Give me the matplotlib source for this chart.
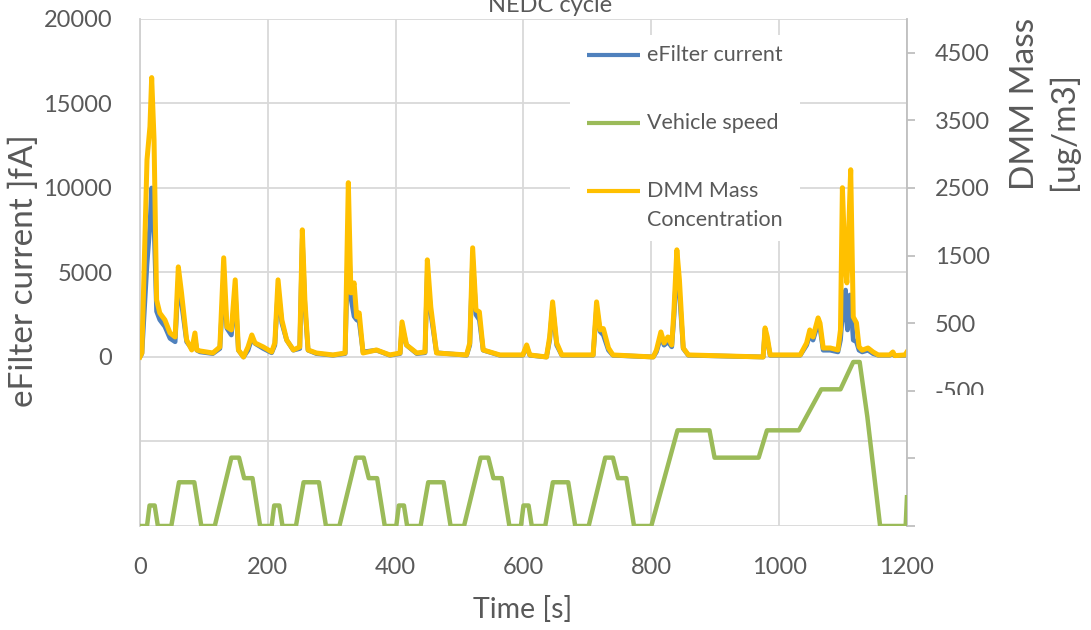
import matplotlib
matplotlib.use("Agg")
import matplotlib.pyplot as plt
from matplotlib.patches import Rectangle

plt.rcParams['font.family'] = ['Lato', 'DejaVu Sans']

# sample times [s] for the particle measurements
time_s = [0, 3, 11, 15.6, 18.3, 22, 26, 31, 39, 47,
          55, 60, 65, 73, 81, 86, 89, 94, 114, 125,
          131, 136, 143, 149, 154, 162, 169, 175, 180, 193,
          206, 211, 216, 222, 229.5, 240, 250, 254, 258, 263,
          276, 302, 321, 326, 330, 335, 339, 343, 349, 370,
          391, 407, 410, 417, 433, 446, 449.6, 455, 464, 511,
          516, 520.5, 525.7, 531, 537, 563, 599, 605, 610, 636,
          641, 645.6, 652, 660, 709, 714.4, 720, 725, 733, 740,
          803, 808, 815, 820, 826, 832, 835.5, 840, 844, 850,
          858, 975, 978, 981.5, 986, 1033, 1043, 1048, 1053, 1061,
          1064, 1069, 1080, 1092, 1096, 1099, 1102, 1104, 1106, 1107,
          1109, 1111, 1112, 1116, 1121, 1125, 1130, 1139, 1147, 1155,
          1173, 1178, 1181, 1197, 1200]

# DMM mass concentration [ug/m3]
dmm_mass = [0, 60, 2918, 3407, 4133, 3215, 844, 650, 548, 355,
            296, 1333, 948, 252, 104, 355, 104, 89, 59, 148,
            1467, 444, 400, 1141, 104, 0, 148, 326, 207, 148,
            74, 207, 1141, 548, 252, 104, 148, 1881, 844, 104,
            59, 30, 59, 2578, 948, 1096, 593, 652, 59, 104,
            30, 59, 519, 178, 59, 74, 1437, 741, 59, 30,
            207, 1615, 696, 667, 104, 30, 30, 178, 30, 0,
            300, 815, 207, 30, 30, 815, 400, 420, 133, 30,
            0, 100, 370, 207, 296, 178, 696, 1585, 1141, 133,
            30, 0, 430, 296, 30, 30, 207, 400, 296, 578,
            500, 133, 133, 104, 400, 2504, 1700, 1300, 1096, 1300,
            1900, 2500, 2770, 593, 504, 150, 100, 133, 74, 30,
            30, 74, 20, 30, 74]

# eFilter current [fA]
efilter_fA = [0, 200, 5500, 7800, 10000, 7800, 2700, 2200, 1800, 1100,
              900, 4500, 3200, 900, 500, 1100, 400, 300, 200, 500,
              4500, 1700, 1300, 3800, 400, 0, 400, 1100, 800, 500,
              250, 700, 4000, 2000, 1000, 400, 500, 7000, 3000, 400,
              200, 100, 200, 7500, 3500, 2400, 2200, 2100, 300, 400,
              100, 200, 1800, 700, 200, 250, 5000, 2600, 250, 100,
              700, 5800, 2500, 2200, 400, 100, 100, 600, 100, 0,
              1000, 3000, 700, 100, 100, 2900, 1500, 1300, 400, 100,
              0, 300, 1200, 700, 900, 600, 2400, 5600, 3800, 500,
              100, 0, 1600, 1000, 100, 100, 700, 1300, 1000, 2000,
              1700, 400, 400, 300, 1000, 2500, 2200, 3960, 2000, 1600,
              2500, 3670, 3200, 1000, 900, 400, 300, 400, 200, 100,
              100, 200, 80, 100, 200]

# vehicle speed trace (4x ECE-15 + EUDC)
speed_t = [0, 11, 15, 23, 28, 49, 61, 85, 96, 117, 143, 155, 163, 176, 188,
           206, 210, 218, 223, 244, 256, 280, 291, 312, 338, 350, 358, 371, 383,
           401, 405, 413, 418, 439, 451, 475, 486, 507, 533, 545, 553, 566, 578,
           596, 600, 608, 613, 634, 646, 670, 681, 702, 728, 740, 748, 761, 773,
           800, 841, 891, 899, 968, 981, 1031, 1066, 1096, 1116, 1126, 1138, 1158,
           1198, 1200]
speed_kmh = [0, 0, 15, 15, 0, 0, 32, 32, 0, 0, 50, 50, 35, 35, 0,
             0, 15, 15, 0, 0, 32, 32, 0, 0, 50, 50, 35, 35, 0,
             0, 15, 15, 0, 0, 32, 32, 0, 0, 50, 50, 35, 35, 0,
             0, 15, 15, 0, 0, 32, 32, 0, 0, 50, 50, 35, 35, 0,
             0, 70, 70, 50, 50, 70, 70, 100, 100, 120, 120, 80, 0,
             0, 21]

left_ticks = [-10000, -5000, 0, 5000, 10000, 15000, 20000]
right_ticks = [-2500, -1500, -500, 500, 1500, 2500, 3500, 4500]
x_ticks = [0, 200, 400, 600, 800, 1000, 1200]

txt = '#595959'
grid_c = '#D9D9D9'
blue = '#4F81BD'
green = '#9BBB59'
gold = '#FFC000'
fs = 17

fig = plt.figure(figsize=(10.91, 6.30), dpi=100)
ax = fig.add_axes([0.1283, 0.1651, 0.7030, 0.8048])
ax2 = ax.twinx()
ax3 = ax.twinx()

# left axis: eFilter current
ax.plot(time_s, efilter_fA, color=blue, lw=3.4, solid_joinstyle='round')
ax.set_xlim(0, 1200)
ax.set_ylim(-10000, 20000)
ax.set_xticks(x_ticks)
ax.set_yticks(left_ticks)
ax.set_yticklabels([str(v) if v >= 0 else '' for v in left_ticks])
ax.grid(True, color=grid_c, lw=1.3)
ax.set_axisbelow(True)
ax.tick_params(axis='both', length=0, labelsize=fs, labelcolor=txt)
ax.tick_params(axis='y', pad=20)
ax.tick_params(axis='x', pad=22)
for s in ['top', 'bottom', 'right']:
    ax.spines[s].set_visible(False)
ax.spines['left'].set_color('#D0D0D0')
ax.spines['left'].set_linewidth(1.3)

# right axis: DMM mass
ax2.plot(time_s, dmm_mass, color=gold, lw=3.6, solid_joinstyle='round')
ax2.set_ylim(-2500, 5000)
ax2.set_yticks(right_ticks)
ax2.set_yticklabels([str(v) if v >= -500 else '' for v in right_ticks])
ax2.tick_params(axis='y', length=6, width=1.3, color='#BFBFBF', pad=14,
                labelsize=fs, labelcolor=txt)
for s in ['top', 'bottom', 'left']:
    ax2.spines[s].set_visible(False)
ax2.spines['right'].set_color('#BFBFBF')
ax2.spines['right'].set_linewidth(1.3)

# hidden axis for the speed trace
ax3.plot(speed_t, speed_kmh, color=green, lw=3.2, solid_joinstyle='round')
ax3.set_ylim(0, 371)
ax3.set_xlim(0, 1200)
ax3.set_yticks([])
for s in ax3.spines.values():
    s.set_visible(False)

# legend block with white background
ax3.add_patch(Rectangle((0.561, 0.563), 0.30, 0.405, transform=ax.transAxes,
                        facecolor='white', edgecolor='none', zorder=3))
entries = [('eFilter current', blue, 0.929),
           ('Vehicle speed', green, 0.795),
           ('DMM Mass\nConcentration', gold, 0.661)]
for label, c, yy in entries:
    ax3.plot([0.583, 0.652], [yy, yy], color=c, lw=3, transform=ax.transAxes,
             zorder=4, solid_capstyle='butt')
    ax3.text(0.661, yy + (0.020 if '\n' in label else 0), label,
             transform=ax.transAxes, fontsize=15.5, color=txt,
             va='top' if '\n' in label else 'center', ha='left', zorder=4,
             linespacing=1.6)

# cover the lower part of the right tick labels
fig.patches.append(Rectangle((0.8414, 0.155), 0.16, 0.218, transform=fig.transFigure,
                             facecolor='white', edgecolor='none', zorder=5))

fig.text(0.504, 0.981, 'NEDC cycle', ha='center', va='baseline', fontsize=fs, color=txt)
fig.text(0.022, 0.570, 'eFilter current ]fA]', rotation=90, ha='center', va='center',
         fontsize=24, color=txt)
fig.text(0.957, 0.698, 'DMM Mass\n[ug/m3]', rotation=90, ha='center', va='bottom',
         fontsize=24, color=txt, multialignment='left', linespacing=1.3)
fig.text(0.479, 0.032, 'Time [s]', ha='center', va='center', fontsize=20.5, color=txt)

fig.savefig('out.png', dpi=100)
